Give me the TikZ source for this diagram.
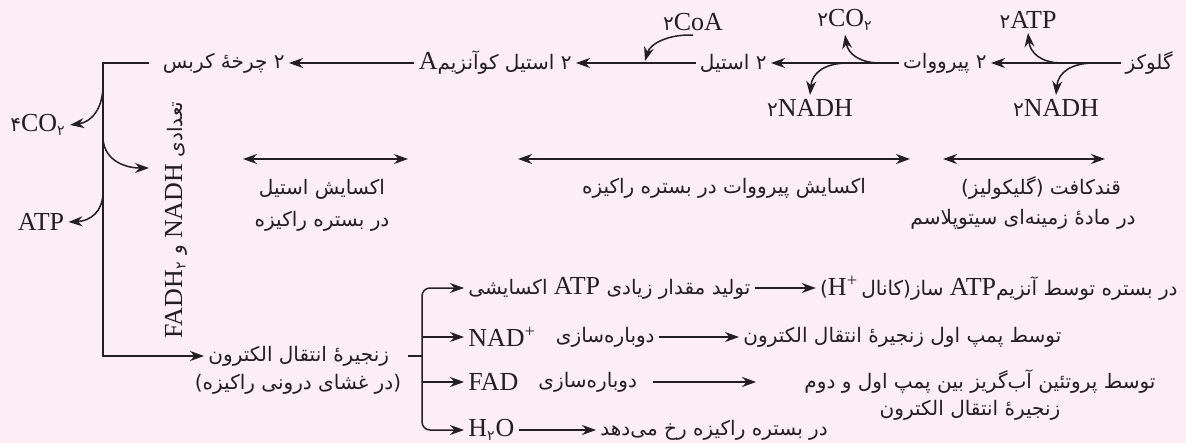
\documentclass[tikz,border=0pt]{standalone}
\usepackage{fontspec}
\setmainfont{Liberation Serif}
\newfontfamily\fafont[Script=Arabic,Scale=0.77]{DejaVu Sans}
\TeXXeTstate=1
\usetikzlibrary{arrows.meta,calc}
\definecolor{PageRose}{RGB}{253,237,245}
\definecolor{InkGray}{RGB}{35,31,32}
\newcommand\fatxt[1]{{\fafont\beginR #1\endR}}
\newcommand\latxt[1]{{\rmfamily\beginL #1\endL}}
\newcommand\pdig[1]{{\fafont #1}}
\newcommand\iso[1]{\kern0pt#1\kern0pt}
\newcommand\hy{ه^^^^0654}

\begin{document}
\begin{tikzpicture}[x=0.5pt,y=-0.5pt,
    every node/.style={text=InkGray,inner sep=2pt,font=\fontsize{13}{15}\selectfont},
    arr/.style={draw=InkGray,line width=0.75pt,-{Stealth[length=7pt,width=5pt]}},
    span/.style={draw=InkGray,line width=0.75pt,{Stealth[length=7pt,width=5pt]}-{Stealth[length=7pt,width=5pt]}},
    link/.style={draw=InkGray,line width=0.75pt}]
  \fill[PageRose] (0,0) rectangle (1186,443);
  \useasboundingbox (0,0) rectangle (1186,443);

  \node[anchor=east] (glc) at (1177,63) {\fatxt{گلوکز}};
  \node[anchor=east] (pyr) at (991,63) {\fatxt{۲ پیرووات}};
  \node[anchor=east] (ace) at (771,63) {\fatxt{۲ استیل}};
  \node[anchor=east] (acoa) at (576,63) {\fatxt{۲ استیل کوآنزیم\latxt{A}}};
  \node[anchor=east] (krebs) at (289,63) {\fatxt{۲ چرخ\hy{} کربس}};
  \node (atpa) at (1028,20) {\pdig{۲}ATP};
  \node (nadha) at (1056,108) {\pdig{۲}NADH};
  \node (co2a) at (845,20) {\pdig{۲}CO\textsubscript{\pdig{۲}}};
  \node (nadhb) at (810,108) {\pdig{۲}NADH};
  \node (coa) at (693,22) {\pdig{۲}CoA};

  \draw[arr] (glc.west) -- (pyr.east);
  \draw[arr] (pyr.west) -- (ace.east);
  \draw[arr] (ace.west) -- (acoa.east);
  \draw[arr] (acoa.west) -- (krebs.east);
  \coordinate (g1) at (1062,63);
  \coordinate (g2) at (1094,63);
  \coordinate (p1) at (880,63);
  \coordinate (p2) at (848,63);
  \coordinate (a1) at (645,61);
  \draw[arr] (g1) .. controls (1040,63) and (1030,52) .. (atpa.south);
  \draw[arr] (g2) .. controls (1072,63) and (1058,72) .. (nadha.north);
  \draw[arr] (p1) .. controls (860,63) and (848,54) .. (co2a.south);
  \draw[arr] (p2) .. controls (826,63) and (812,72) .. (nadhb.north);
  \draw[arr] (coa.south) .. controls (668,34) and (650,44) .. (a1);

  \node (co24) at (38,125) {\pdig{۴}CO\textsubscript{\pdig{۲}}};
  \node (atpk) at (41,222) {ATP};
  \node[rotate=90] (nadhtxt) at (176,220)
    {\fatxt{تعدادی \latxt{NADH} و \latxt{FADH\textsubscript{\pdig{۲}}}}};
  \node[anchor=west] (etc) at (204,356) {\fatxt{زنجیر\hy{} انتقال الکترون}};
  \node (etcsub) at (298,384) {\fatxt{\iso{(}در غشای درونی راکیزه\iso{)}}};
  \coordinate (kc) at (103,63);
  \coordinate (nt) at (149,168);
  \draw[arr,shorten <=5pt] (krebs.west) -- (kc) |- (etc.west);
  \draw[arr] (103,85) .. controls (103,108) and (92,122) .. (co24.east);
  \draw[arr] (103,137) .. controls (103,158) and (122,168) .. (nt);
  \draw[arr] (103,192) .. controls (103,212) and (90,221) .. (atpk.east);

  \draw[span] (243,159) -- (408,159);
  \draw[span] (518,159) -- (910,159);
  \draw[span] (943,159) -- (1105,159);
  \node (oxa) at (322,189) {\fatxt{اکسایش استیل}};
  \node (oxab) at (322,221) {\fatxt{در بستره راکیزه}};
  \node (oxp) at (724,188) {\fatxt{اکسایش پیرووات در بستره راکیزه}};
  \node (gly) at (1041,188) {\fatxt{قندکافت \iso{(}گلیکولیز\iso{)}}};
  \node (glyb) at (1023,219) {\fatxt{در ماد\hy{} زمینه^^^^200cای سیتوپلاسم}};

  \node[anchor=west] (r1) at (464,288) {\fatxt{تولید مقدار زیادی \latxt{ATP} اکسایشی}};
  \node[anchor=east] (r1b) at (1182,288)
    {\fatxt{در بستره توسط آنزیم\latxt{ATP} ساز\iso{(}کانال\,\latxt{H\textsuperscript{+}}\iso{)}}};
  \node[anchor=west] (nad) at (464,337) {NAD\textsuperscript{+}};
  \node[anchor=east] (nadr) at (659,337) {\fatxt{دوباره^^^^200cسازی}};
  \node[anchor=west] (nadp) at (739,337) {\fatxt{توسط پمپ اول زنجیر\hy{} انتقال الکترون}};
  \node[anchor=west] (fad) at (464,382) {FAD};
  \node[anchor=west] (fadr) at (534,382) {\fatxt{دوباره^^^^200cسازی}};
  \node (fadp) at (980,382) {\fatxt{توسط پروتئین آب^^^^200cگریز بین پمپ اول و دوم}};
  \node (fadp2) at (970,410) {\fatxt{زنجیر\hy{} انتقال الکترون}};
  \node[anchor=west] (h2o) at (464,430) {H\textsubscript{\pdig{۲}}O};
  \node[anchor=west] (h2or) at (596,430) {\fatxt{در بستره راکیزه رخ می^^^^200cدهد}};

  \coordinate (bs) at (408,356);
  \coordinate (bx) at (422,356);
  \coordinate (b2) at (422,337);
  \coordinate (b3) at (422,382);
  \draw[link] (bs) -- (bx);
  \draw[arr,rounded corners=4pt] (bx) |- (r1.west);
  \draw[arr,rounded corners=4pt] (bx) |- (h2o.west);
  \draw[arr] (b2) -- (nad.west);
  \draw[arr] (b3) -- (fad.west);
  \draw[arr] (r1.east) -- (r1b.west);
  \draw[arr] (nadr.east) -- (nadp.west);
  \draw[arr,shorten <=6pt,shorten >=22pt] (fadr.east) -- (fadp.west);
  \draw[arr] (h2o.east) -- (h2or.west);
\end{tikzpicture}
\end{document}
